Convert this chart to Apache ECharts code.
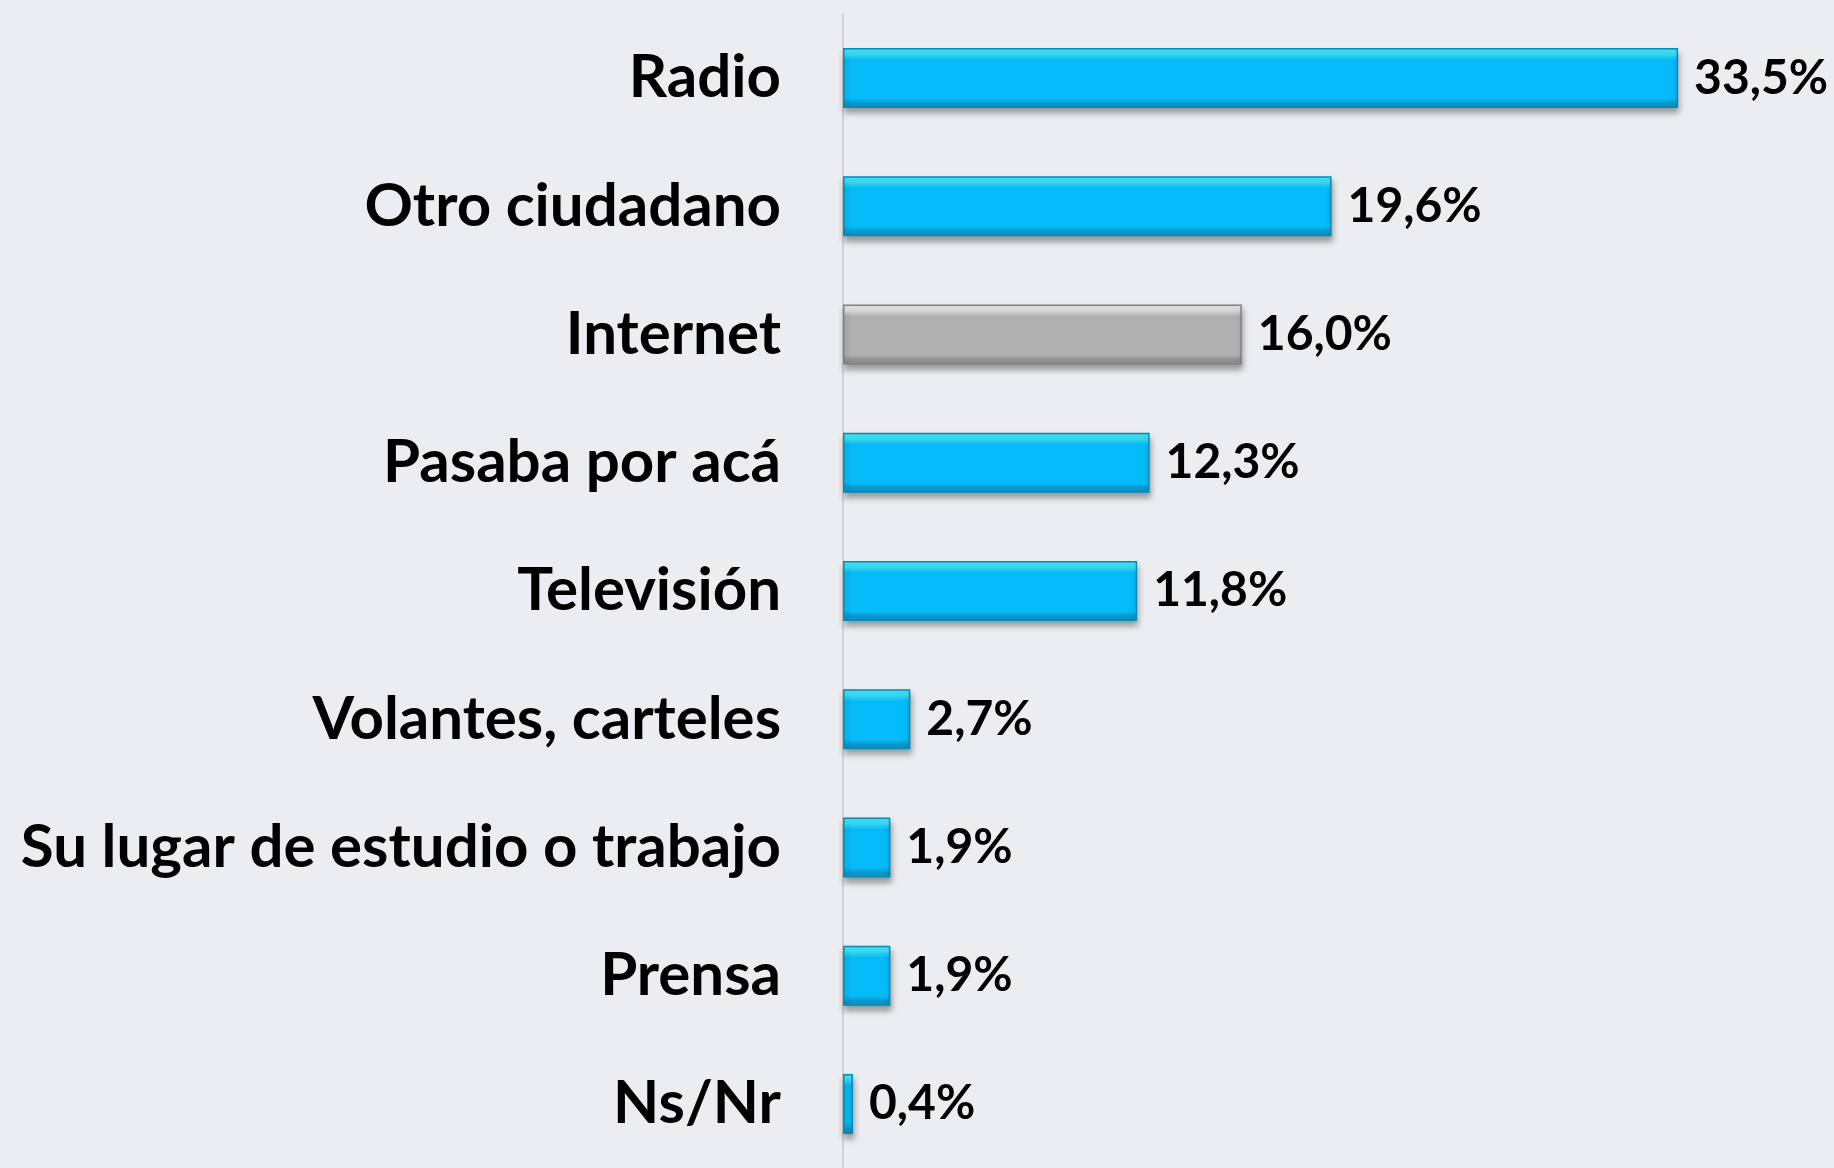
<!DOCTYPE html>
<html>
<head>
<meta charset="utf-8">
<script src="https://cdn.jsdelivr.net/npm/echarts@6/dist/echarts.min.js"></script>
<style>
  html, body { margin: 0; padding: 0; background: #ecedf0; }
  #chart { width: 1834px; height: 1168px; }
</style>
</head>
<body>
<div id="chart"></div>
<script>
// categories top to bottom
var categories = ['Radio', 'Otro ciudadano', 'Internet', 'Pasaba por acá', 'Televisión',
  'Volantes, carteles', 'Su lugar de estudio o trabajo', 'Prensa', 'Ns/Nr']
var values = [33.5, 19.6, 16.0, 12.3, 11.8, 2.7, 1.9, 1.9, 0.4]
var highlighted = ['Internet']

function barStyle(light, main, dark, edge) {
  return {
    color: {
      type: 'linear', x: 0, y: 0, x2: 0, y2: 1,
      colorStops: [
        { offset: 0, color: light },
        { offset: 0.1, color: light },
        { offset: 0.2, color: main },
        { offset: 0.84, color: main },
        { offset: 0.92, color: dark },
        { offset: 1, color: dark }
      ]
    },
    borderColor: edge,
    borderWidth: 1.5,
    shadowColor: 'rgba(0,0,0,0.35)',
    shadowBlur: 6,
    shadowOffsetY: 5,
    shadowOffsetX: 1
  }
}

var blue = barStyle('#3ee6fb', '#06bbf9', '#0a96c8', '#0888b5')
var gray = barStyle('#e6e6e6', '#b1b1b1', '#8f8f8f', '#7f7f7f')

var chart = echarts.init(document.getElementById('chart'))
chart.setOption({
  backgroundColor: '#ecedf0',
  animation: false,
  grid: { left: 843, top: 14, width: 872.5, height: 1170 },
  xAxis: {
    type: 'value', min: 0, max: 35,
    show: false
  },
  yAxis: {
    type: 'category',
    inverse: true,
    data: categories,
    axisLine: { show: true, lineStyle: { color: '#d2d3d6', width: 2 } },
    axisTick: { show: false },
    axisLabel: {
      color: '#000',
      fontFamily: 'Lato',
      fontWeight: 'bold',
      fontSize: 60,
      margin: 62
    }
  },
  series: [{
    type: 'bar',
    barWidth: 60,
    data: values.map(function (v, i) {
      return {
        value: v,
        itemStyle: highlighted.indexOf(categories[i]) >= 0 ? gray : blue
      }
    }),
    label: {
      show: true,
      position: 'right',
      distance: 16,
      color: '#000',
      fontFamily: 'Lato',
      fontWeight: 'bold',
      fontSize: 48,
      formatter: function (p) {
        return p.value.toFixed(1).replace('.', ',') + '%'
      }
    }
  }]
})
</script>
</body>
</html>
